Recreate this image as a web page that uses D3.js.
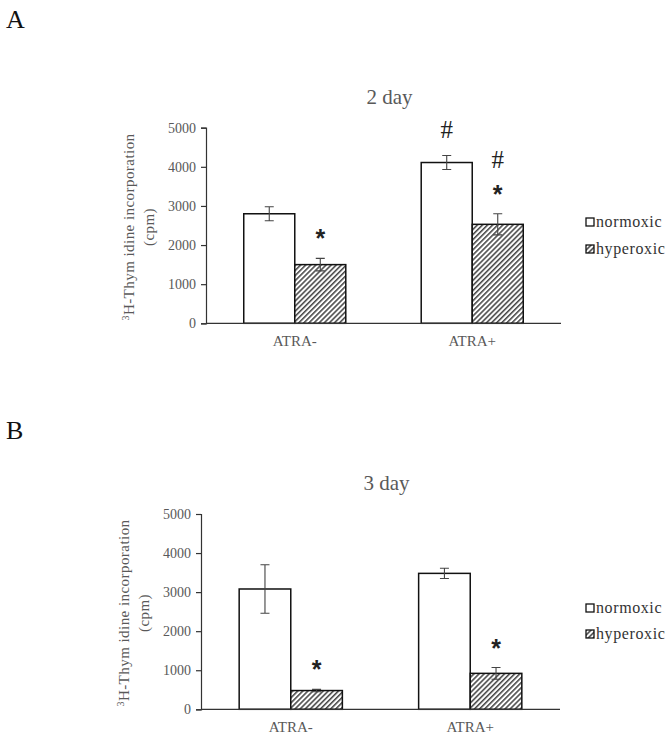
<!DOCTYPE html>
<html>
<head>
<meta charset="utf-8">
<script src="https://cdn.jsdelivr.net/npm/d3@7"></script>
<style>
  body { margin: 0; background: #fff; }
  svg { display: block; }
</style>
</head>
<body>
<script>
// data
var categories = ["ATRA-", "ATRA+"];
var seriesNames = ["normoxic", "hyperoxic"];
var yTicks = [0, 1000, 2000, 3000, 4000, 5000];

var day2Normoxic = [2800, 4110];
var day2NormoxicErr = [180, 180];
var day2Hyperoxic = [1500, 2530];
var day2HyperoxicErr = [160, 270];
// significance marks per bar, bottom to top
var day2Marks = [["", "*"], ["#", "*#"]];

var day3Normoxic = [3080, 3480];
var day3NormoxicErr = [620, 130];
var day3Hyperoxic = [480, 920];
var day3HyperoxicErr = [30, 150];
var day3Marks = [["", "*"], ["", "*"]];

var width = 666, height = 736;
var grey = "#595959";

var svg = d3.select("body").append("svg")
  .attr("width", width)
  .attr("height", height);

var defs = svg.append("defs");
defs.append("pattern")
  .attr("id", "hatch")
  .attr("patternUnits", "userSpaceOnUse")
  .attr("width", 3.6)
  .attr("height", 3.6)
  .attr("patternTransform", "rotate(45)")
  .call(function(p) {
    p.append("rect").attr("width", 3.6).attr("height", 3.6).attr("fill", "#fff");
    p.append("line").attr("x1", 0.8).attr("y1", 0).attr("x2", 0.8).attr("y2", 3.6)
      .attr("stroke", "#222").attr("stroke-width", 1.3);
  });

function drawPanel(o) {
  var g = svg.append("g");

  g.append("text")
    .attr("x", 6).attr("y", o.letterY)
    .attr("font-family", "Liberation Serif")
    .attr("font-size", 26)
    .attr("fill", "#111")
    .text(o.letter);

  var y = d3.scaleLinear().domain([0, 5000]).range([o.bottom, o.top]);

  var x0 = d3.scaleBand()
    .domain(categories)
    .range([o.left, o.right])
    .paddingInner(0.425)
    .paddingOuter(0.2127);

  var x1 = d3.scaleBand()
    .domain(seriesNames)
    .range([0, x0.bandwidth()]);

  // title
  g.append("text")
    .attr("x", (o.left + o.right) / 2 + 6).attr("y", o.titleY)
    .attr("text-anchor", "middle")
    .attr("font-family", "Liberation Serif")
    .attr("font-size", 21)
    .attr("fill", grey)
    .text(o.title);

  // y axis
  var yAxis = d3.axisLeft(y).tickValues(yTicks).tickSize(5).tickPadding(5).tickFormat(d3.format("d"));
  var ya = g.append("g").attr("transform", "translate(" + o.left + ",0)").call(yAxis);
  ya.select(".domain").attr("stroke", "#333").attr("stroke-width", 1.2);
  ya.selectAll(".tick line").attr("stroke", "#333").attr("stroke-width", 1.2);
  ya.selectAll(".tick text")
    .attr("font-family", "Liberation Serif")
    .attr("font-size", 14)
    .attr("fill", grey);

  // y label
  var lab = g.append("text")
    .attr("transform", "translate(" + (o.left - 72) + "," + o.labelY + ") rotate(-90)")
    .attr("text-anchor", "middle")
    .attr("font-family", "Liberation Serif")
    .attr("font-size", 15)
    .attr("letter-spacing", 0.45)
    .attr("fill", grey);
  lab.append("tspan").attr("font-size", 10).attr("dy", -5).text("3");
  lab.append("tspan").attr("dy", 5).text("H-Thym idine incorporation");
  g.append("text")
    .attr("transform", "translate(" + (o.left - 52) + "," + o.labelY + ") rotate(-90)")
    .attr("text-anchor", "middle")
    .attr("font-family", "Liberation Serif")
    .attr("font-size", 15)
    .attr("letter-spacing", 0.45)
    .attr("fill", grey)
    .text("(cpm)");

  var rows = categories.map(function(c, i) {
    return [
      { cat: c, s: "normoxic", v: o.normoxic[i], e: o.normoxicErr[i], marks: o.marks[i][0] },
      { cat: c, s: "hyperoxic", v: o.hyperoxic[i], e: o.hyperoxicErr[i], marks: o.marks[i][1] }
    ];
  });

  var groups = g.selectAll(".grp").data(rows).enter().append("g")
    .attr("class", "grp")
    .attr("transform", function(d) { return "translate(" + x0(d[0].cat) + ",0)"; });

  var bars = groups.selectAll(".bar").data(function(d) { return d; }).enter().append("g");

  bars.append("rect")
    .attr("x", function(d) { return x1(d.s); })
    .attr("y", function(d) { return y(d.v); })
    .attr("width", x1.bandwidth())
    .attr("height", function(d) { return y(0) - y(d.v); })
    .attr("fill", function(d) { return d.s == "normoxic" ? "#fff" : "url(#hatch)"; })
    .attr("stroke", "#111")
    .attr("stroke-width", 1.5);

  // error bars
  bars.each(function(d) {
    var b = d3.select(this);
    var cx = x1(d.s) + x1.bandwidth() / 2;
    var path = d3.path();
    path.moveTo(cx, y(d.v + d.e)); path.lineTo(cx, y(d.v - d.e));
    path.moveTo(cx - 4.5, y(d.v + d.e)); path.lineTo(cx + 4.5, y(d.v + d.e));
    path.moveTo(cx - 4.5, y(d.v - d.e)); path.lineTo(cx + 4.5, y(d.v - d.e));
    b.append("path").attr("d", path.toString()).attr("stroke", "#444").attr("stroke-width", 1.1).attr("fill", "none");

    d.marks.split("").forEach(function(m, k) {
      var cy = y(d.v + d.e) - 25 - k * 29;
      if (m == "*") {
        b.append("text")
          .attr("x", cx).attr("y", cy + 14)
          .attr("text-anchor", "middle")
          .attr("font-family", "Liberation Sans")
          .attr("font-weight", "bold")
          .attr("font-size", 25)
          .attr("fill", "#222")
          .text("*");
      } else {
        b.append("text")
          .attr("x", cx).attr("y", cy + 8)
          .attr("text-anchor", "middle")
          .attr("font-family", "Liberation Serif")
          .attr("font-size", 25)
          .attr("fill", "#222")
          .text("#");
      }
    });
  });

  // x axis line
  g.append("line")
    .attr("x1", o.left).attr("x2", o.right)
    .attr("y1", y(0)).attr("y2", y(0))
    .attr("stroke", "#333").attr("stroke-width", 1.2);

  g.selectAll(".xlab").data(categories).enter().append("text")
    .attr("x", function(d) { return x0(d) + x0.bandwidth() / 2; })
    .attr("y", y(0) + 23)
    .attr("text-anchor", "middle")
    .attr("font-family", "Liberation Serif")
    .attr("font-size", 15)
    .attr("fill", grey)
    .text(function(d) { return d; });

  // legend
  var leg = g.selectAll(".leg").data(seriesNames).enter().append("g")
    .attr("transform", function(d, i) { return "translate(586," + (o.legendY + i * o.legendGap) + ")"; });
  leg.append("rect")
    .attr("x", 0).attr("y", -4).attr("width", 8).attr("height", 8)
    .attr("fill", function(d) { return d == "normoxic" ? "#fff" : "url(#hatch)"; })
    .attr("stroke", "#111").attr("stroke-width", 1.3);
  leg.append("text")
    .attr("x", 10).attr("y", 5)
    .attr("font-family", "Liberation Serif")
    .attr("font-size", 16)
    .attr("letter-spacing", 0.6)
    .attr("fill", "#333")
    .text(function(d) { return d; });
}

drawPanel({
  letter: "A", letterY: 28, title: "2 day", titleY: 104,
  left: 206, right: 561, top: 127.7, bottom: 323.3, labelY: 227,
  normoxic: day2Normoxic, normoxicErr: day2NormoxicErr,
  hyperoxic: day2Hyperoxic, hyperoxicErr: day2HyperoxicErr,
  marks: day2Marks, legendY: 222, legendGap: 27
});

drawPanel({
  letter: "B", letterY: 439, title: "3 day", titleY: 490,
  left: 201, right: 560, top: 514, bottom: 709.3, labelY: 613,
  normoxic: day3Normoxic, normoxicErr: day3NormoxicErr,
  hyperoxic: day3Hyperoxic, hyperoxicErr: day3HyperoxicErr,
  marks: day3Marks, legendY: 608, legendGap: 26
});
</script>
</body>
</html>
